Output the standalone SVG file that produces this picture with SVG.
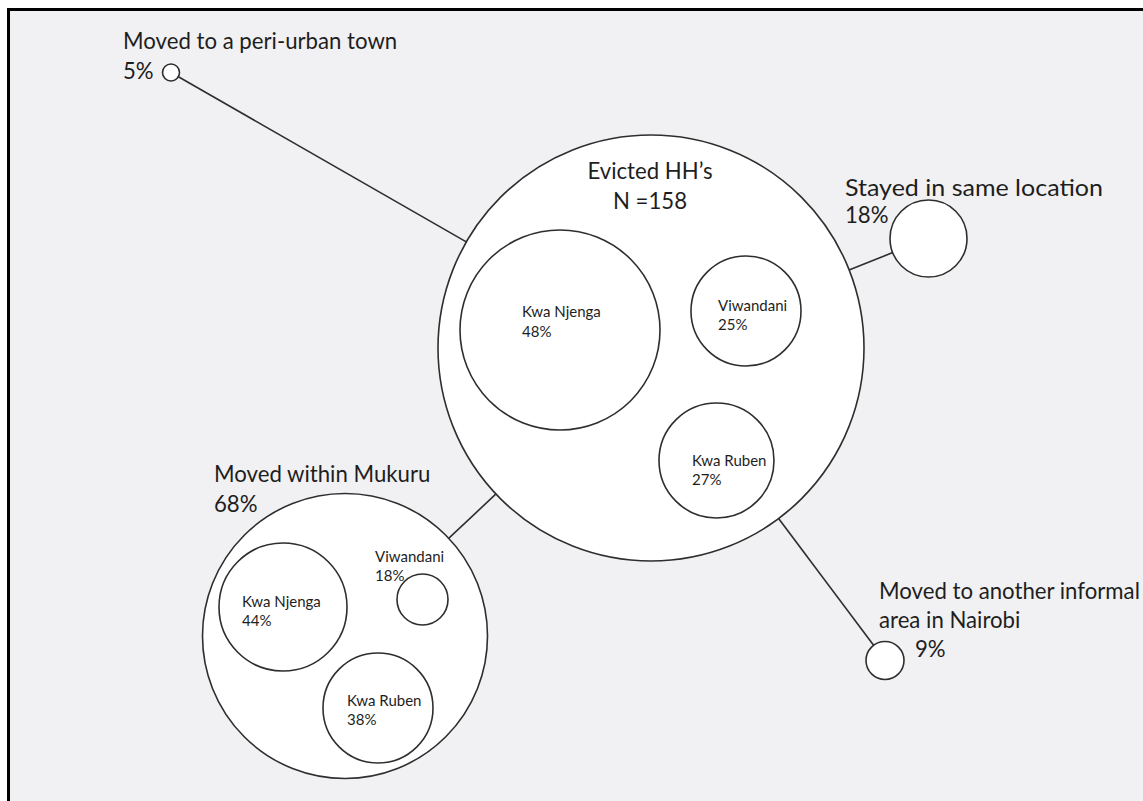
<svg xmlns="http://www.w3.org/2000/svg" width="1143" height="801" viewBox="0 0 1143 801">
  <style>
    .c { fill: #ffffff; stroke: #2e2e2e; stroke-width: 1.6; }
    .lk { stroke: #2e2e2e; stroke-width: 1.6; fill: none; }
    .big { font-family: Lato, "Liberation Sans", sans-serif; font-size: 22.2px; fill: #1e1e1e; }
    .sm { font-family: Lato, "Liberation Sans", sans-serif; font-size: 15px; fill: #1e1e1e; }
  </style>
  <rect x="0" y="0" width="1143" height="801" fill="#ffffff"/>
  <rect x="8.5" y="9.5" width="1200" height="900" fill="#f1f1f3" stroke="#000000" stroke-width="3"/>

  <g id="connectors">
    <line class="lk" x1="178.4" y1="76.7" x2="466.3" y2="241.9"/>
    <line class="lk" x1="849" y1="270" x2="892.7" y2="252.6"/>
    <line class="lk" x1="778.6" y1="518.5" x2="873.6" y2="645.3"/>
    <line class="lk" x1="448.4" y1="538.7" x2="496" y2="493.9"/>
  </g>

  <g id="evicted">
    <circle class="c" cx="651" cy="348" r="213"/>
    <text class="big" x="650" y="179" text-anchor="middle">Evicted HH’s</text>
    <text class="big" x="650" y="209" text-anchor="middle">N =158</text>
  </g>
  <g id="evicted-kwa-njenga">
    <circle class="c" cx="560" cy="330" r="100"/>
    <text class="sm" x="522" y="317">Kwa Njenga</text>
    <text class="sm" x="522" y="337">48%</text>
  </g>
  <g id="evicted-viwandani">
    <circle class="c" cx="746" cy="311" r="55"/>
    <text class="sm" x="718" y="311">Viwandani</text>
    <text class="sm" x="718" y="330">25%</text>
  </g>
  <g id="evicted-kwa-ruben">
    <circle class="c" cx="716.5" cy="460.5" r="57.5"/>
    <text class="sm" x="692" y="466">Kwa Ruben</text>
    <text class="sm" x="692" y="485">27%</text>
  </g>

  <g id="peri-urban">
    <circle class="c" cx="171" cy="72.5" r="8.5"/>
    <text class="big" x="123" y="49">Moved to a peri-urban town</text>
    <text class="big" x="123" y="79">5%</text>
  </g>

  <g id="stayed">
    <circle class="c" cx="928.5" cy="238.5" r="38.5"/>
    <text class="big" x="845" y="196" textLength="258" lengthAdjust="spacingAndGlyphs">Stayed in same location</text>
    <text class="big" x="845" y="223">18%</text>
  </g>

  <g id="nairobi">
    <circle class="c" cx="885" cy="660.5" r="19"/>
    <text class="big" x="879" y="599">Moved to another informal</text>
    <text class="big" x="879" y="628">area in Nairobi</text>
    <text class="big" x="915" y="657">9%</text>
  </g>

  <g id="mukuru">
    <circle class="c" cx="345" cy="636" r="142.5"/>
    <text class="big" x="214" y="482">Moved within Mukuru</text>
    <text class="big" x="214" y="512">68%</text>
  </g>
  <g id="mukuru-kwa-njenga">
    <circle class="c" cx="283" cy="607" r="64"/>
    <text class="sm" x="242" y="607">Kwa Njenga</text>
    <text class="sm" x="242" y="626">44%</text>
  </g>
  <g id="mukuru-viwandani">
    <circle class="c" cx="422.5" cy="599.5" r="25.5"/>
    <text class="sm" x="375" y="562">Viwandani</text>
    <text class="sm" x="375" y="581">18%</text>
  </g>
  <g id="mukuru-kwa-ruben">
    <circle class="c" cx="378" cy="708" r="55"/>
    <text class="sm" x="347" y="706">Kwa Ruben</text>
    <text class="sm" x="347" y="725">38%</text>
  </g>
</svg>
